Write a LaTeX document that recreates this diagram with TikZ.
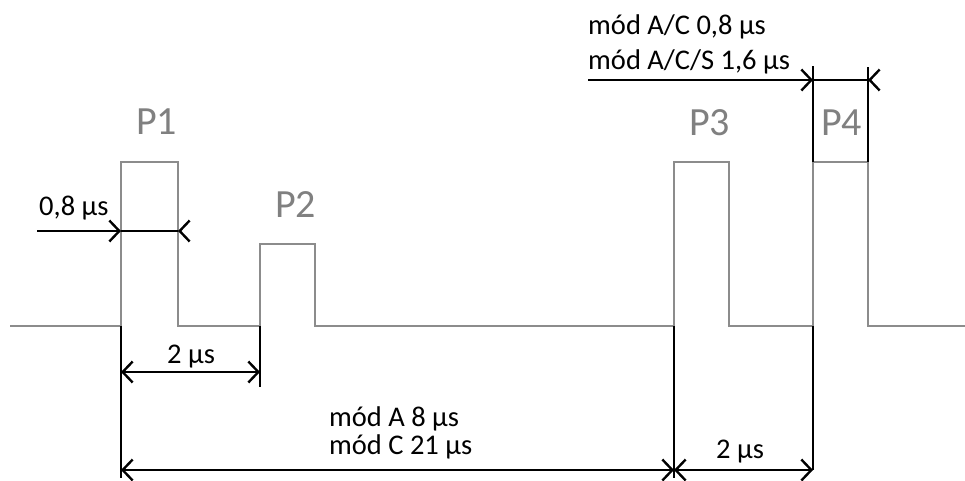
\documentclass[tikz,border=0pt]{standalone}
\usepackage{fontspec}
\setmainfont{Carlito}
\usepackage{tikz}
\usetikzlibrary{arrows.meta,calc}
\definecolor{pulsegray}{RGB}{140,140,140}
\definecolor{labelgray}{RGB}{128,128,128}

\begin{document}
\begin{tikzpicture}[x=1pt, y=-1pt, line join=miter,
  pulse/.style={draw=pulsegray, line width=1.6pt},
  mark line/.style={draw=black, line width=2.6pt},
  dim/.style={draw=black, line width=2.4pt, arrows={-{Straight Barb[length=10pt,width=21pt,line width=2.4pt]}}},
  ddim/.style={dim, arrows={{Straight Barb[length=10pt,width=21pt,line width=2.4pt]}-{Straight Barb[length=10pt,width=21pt,line width=2.4pt]}}},
  pname/.style={text=labelgray, font=\fontsize{40}{40}\selectfont, anchor=base west, inner sep=0pt},
  lbl/.style={font=\fontsize{28.5}{30}\selectfont, anchor=base west, inner sep=0pt}]
\useasboundingbox (0,0) rectangle (965,480);

% pulse train
\coordinate (0) at (10,326);
\coordinate (1) at (121,162);
\coordinate (2) at (178,326);
\coordinate (3) at (260,244);
\coordinate (4) at (315,326);
\coordinate (5) at (674,162);
\coordinate (6) at (729,326);
\coordinate (7) at (813,162);
\coordinate (8) at (868,326);
\coordinate (9) at (965,326);
\path[pulse] (0) -| (1) -| (2) -| (3) -| (4) -| (5) -| (6) -| (7) -| (8) -- (9);

\node[pname] (P1) at (136,134) {P1};
\node[pname] (P2) at (275,217) {P2};
\node[pname] (P3) at (689,135) {P3};
\node[pname] (P4) at (821,135) {P4};

% reference lines
\coordinate (1b) at (121,326);
\coordinate (1e) at (121,478);
\coordinate (3b) at (260,326);
\coordinate (3e) at (260,387);
\coordinate (5b) at (674,326);
\coordinate (5e) at (674,478);
\coordinate (7b) at (813,326);
\coordinate (7e) at (813,470);
\coordinate (7t) at (813,66);
\coordinate (8b) at (868,162);
\coordinate (8t) at (868,67);
\path[mark line] (1b) -- (1e) (3b) -- (3e) (5b) -- (5e) (7b) -- (7e)
  (7) -- (7t) (8b) -- (8t);

% dimensions
\coordinate (a0) at (37,231);
\coordinate (a1) at (121,231);
\coordinate (a2) at (178,231);
\coordinate (a3) at (179,231);
\path[dim] (a0) -- (a1);
\path[mark line, line width=2.4pt] (a1) -- (a2);
\path[dim] (a3) -- (a2);

\coordinate (b1) at (121,372);
\coordinate (b2) at (260,372);
\path[ddim] (b1) -- (b2);

\coordinate (c1) at (121,470);
\coordinate (c2) at (674,470);
\coordinate (c3) at (813,470);
\path[ddim] (c1) -- (c2);
\path[ddim] (c2) -- (c3);

\coordinate (d0) at (588,80);
\coordinate (d1) at (813,80);
\coordinate (d2) at (868,80);
\coordinate (d3) at (869,80);
\path[dim] (d0) -- (d1);
\path[mark line, line width=2.4pt] (d1) -- (d2);
\path[dim] (d3) -- (d2);

% labels
\node[lbl] (t1) at (39,215) {0,8 µs};
\node[lbl] (t2) at (167,363) {2 µs};
\node[lbl] (t3) at (329,426) {mód A 8 µs};
\node[lbl] (t4) at (329,454) {mód C 21 µs};
\node[lbl] (t5) at (716,458) {2 µs};
\node[lbl] (t6) at (588,34) {mód A/C 0,8 µs};
\node[lbl] (t7) at (588,69) {mód A/C/S 1,6 µs};
\end{tikzpicture}
\end{document}
